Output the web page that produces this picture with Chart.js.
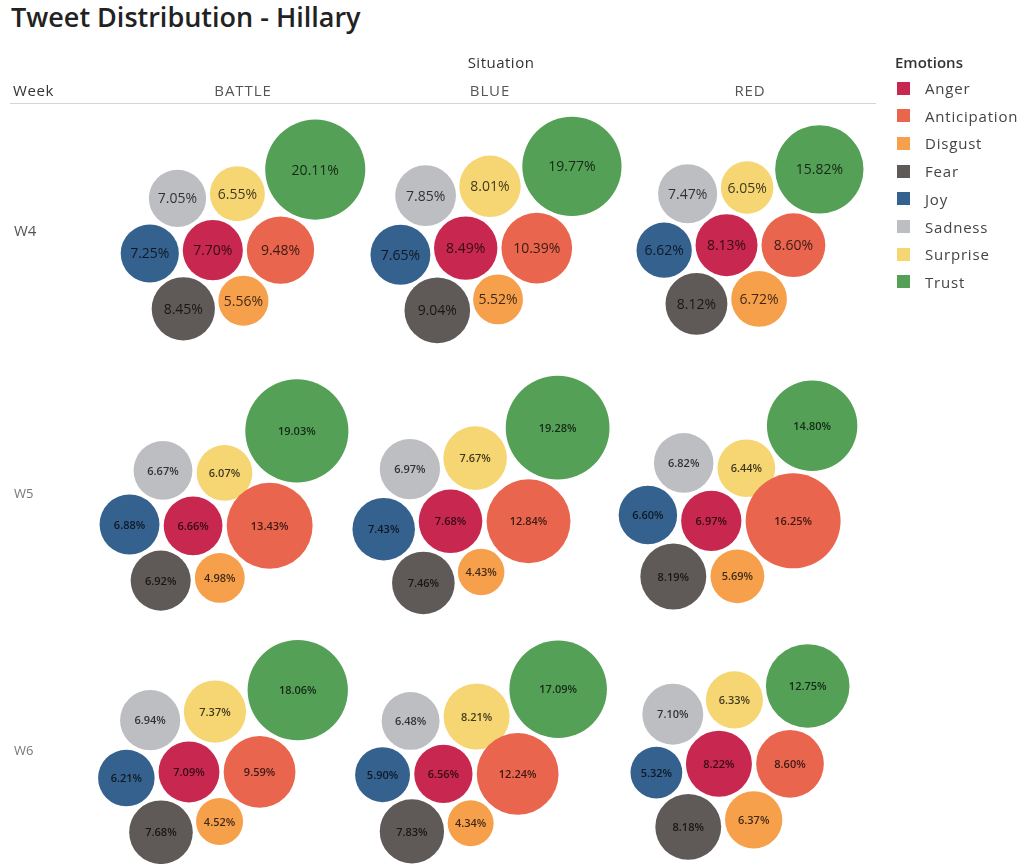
<!DOCTYPE html>
<html>
<head>
<meta charset="utf-8">
<title>Tweet Distribution - Hillary</title>
<script src="https://cdn.jsdelivr.net/npm/chart.js@4"></script>
<style>
  body { margin: 0; background: #fff; font-family: "Open Sans", "Noto Sans", sans-serif; color: #333; }
  #wrap { position: relative; width: 1024px; height: 864px; overflow: hidden; }
  #bubbles { position: absolute; left: 0; top: 0; width: 1024px; height: 864px; }
  .t { position: absolute; white-space: nowrap; line-height: 1; }
  .c { transform: translate(-50%, -50%); }
  .m { transform: translateY(-50%); }
  #title { left: 11px; top: 3px; font-size: 27px; font-weight: 600; color: #222; }
  #rule { position: absolute; left: 10px; top: 103px; width: 866px; height: 1px; background: #d4d4d4; }
  .swatch { position: absolute; width: 13px; height: 13px; }
</style>
</head>
<body>
<div id="wrap">
  <div id="title" class="t">Tweet Distribution - Hillary</div>
  <div id="rule"></div>
  <div id="bubbles"><canvas id="chart"></canvas></div>
</div>
<script>
// ── Data ──────────────────────────────────────────────────
const weeks = ["W4", "W5", "W6"];
const situations = ["BATTLE", "BLUE", "RED"];
const emotions = ["Anger", "Anticipation", "Disgust", "Fear", "Joy", "Sadness", "Surprise", "Trust"];
const emotionColors = ["#c8284f", "#e9654e", "#f7a04c", "#5f5958", "#35618f", "#bcbec1", "#f6d672", "#53a056"];

// % of tweets per emotion, same order as `emotions`
const w4Battle = [7.70, 9.48, 5.56, 8.45, 7.25, 7.05, 6.55, 20.11];
const w4Blue   = [8.49, 10.39, 5.52, 9.04, 7.65, 7.85, 8.01, 19.77];
const w4Red    = [8.13, 8.60, 6.72, 8.12, 6.62, 7.47, 6.05, 15.82];
const w5Battle = [6.66, 13.43, 4.98, 6.92, 6.88, 6.67, 6.07, 19.03];
const w5Blue   = [7.68, 12.84, 4.43, 7.46, 7.43, 6.97, 7.67, 19.28];
const w5Red    = [6.97, 16.25, 5.69, 8.19, 6.60, 6.82, 6.44, 14.80];
const w6Battle = [7.09, 9.59, 4.52, 7.68, 6.21, 6.94, 7.37, 18.06];
const w6Blue   = [6.56, 12.24, 4.34, 7.83, 5.90, 6.48, 8.21, 17.09];
const w6Red    = [8.22, 8.60, 6.37, 8.18, 5.32, 7.10, 6.33, 12.75];

const panels = [
  [w4Battle, w4Blue, w4Red],
  [w5Battle, w5Blue, w5Red],
  [w6Battle, w6Blue, w6Red]
];

// ── Layout ────────────────────────────────────────────────
const AREA = 129;        // px² of bubble area per %
const AREA_FLOOR = 0.7;  // % at which a bubble would shrink to nothing
const PAD = 2;           // gap kept around each bubble when packing
const rowScale = [1, 1.06, 1.06];
const cellX = [[243, 496, 750], [224, 481, 738], [223, 481, 740]];
const cellY = [230, 495, 752];
const headX = [243, 490, 750];

const radius = (v, s) => s * Math.sqrt(AREA * (v - AREA_FLOOR));

// circle c of radius r touching a (ra) and b (rb); side +1 = clockwise from b around a
function touch(a, ra, b, rb, r, side) {
  const da = ra + r, db = rb + r;
  const dx = b.x - a.x, dy = b.y - a.y;
  const d = Math.hypot(dx, dy);
  const cos = (da * da + d * d - db * db) / (2 * da * d);
  const ang = Math.atan2(dy, dx) + side * Math.acos(Math.max(-1, Math.min(1, cos)));
  return { x: a.x + da * Math.cos(ang), y: a.y + da * Math.sin(ang) };
}

// Anger in the middle, the next six wound round it, Trust in the outer notch
function packPanel(vals, s) {
  const r = vals.map(v => radius(v, s));
  const R = r.map(x => x + PAD * s);
  const p = [{ x: 0, y: 0 }, { x: R[0] + R[1], y: 0 }];
  for (let i = 2; i < 7; i++) p[i] = touch(p[0], R[0], p[i - 1], R[i - 1], R[i], 1);
  p[7] = touch(p[6], R[6], p[1], R[1], R[7], -1);
  const minX = Math.min(...p.map((q, i) => q.x - r[i])), maxX = Math.max(...p.map((q, i) => q.x + r[i]));
  const minY = Math.min(...p.map((q, i) => q.y - r[i])), maxY = Math.max(...p.map((q, i) => q.y + r[i]));
  return p.map((q, i) => ({ x: q.x - (minX + maxX) / 2, y: q.y - (minY + maxY) / 2, r: r[i] }));
}

const datasets = emotions.map((name, e) => ({ label: name, data: [], backgroundColor: emotionColors[e], borderWidth: 0 }));
panels.forEach((row, wi) => row.forEach((vals, si) => {
  packPanel(vals, rowScale[wi]).forEach((q, e) => {
    datasets[e].data.push({ x: cellX[wi][si] + q.x, y: cellY[wi] + q.y, r: q.r, v: vals[e], row: wi });
  });
}));

// ── Text: headers, row labels, legend ─────────────────────
const wrap = document.getElementById("wrap");
function addText(txt, x, y, cls, css) {
  const d = document.createElement("div");
  d.className = "t " + cls;
  d.textContent = txt;
  d.style.left = x + "px"; d.style.top = y + "px";
  Object.assign(d.style, css || {});
  wrap.appendChild(d);
  return d;
}
addText("Situation", 501, 62, "c", { fontSize: "15px", color: "#333", letterSpacing: "0.5px" });
addText("Week", 13, 90, "m", { fontSize: "15px", color: "#333", letterSpacing: "0.6px" });
situations.forEach((s, i) => addText(s, headX[i], 90, "c", { fontSize: "15px", color: "#555", letterSpacing: "0.9px" }));
weeks.forEach((w, i) => addText(w, 14, cellY[i] + (i ? -2 : 0), "m", { fontSize: i ? "13px" : "15px", color: i ? "#777" : "#555" }));

addText("Emotions", 895, 62, "m", { fontSize: "15px", fontWeight: "600", color: "#333" });
emotions.forEach((name, i) => {
  const y = 88 + i * 27.7;
  const sw = document.createElement("div");
  sw.className = "swatch";
  sw.style.left = "897px"; sw.style.top = (y - 6.5) + "px"; sw.style.background = emotionColors[i];
  wrap.appendChild(sw);
  addText(name, 925, y, "m", { fontSize: "15px", color: "#444", letterSpacing: "0.8px" });
});

// ── Chart ─────────────────────────────────────────────────
const bubbleLabels = {
  id: "bubbleLabels",
  afterDatasetsDraw(chart) {
    const ctx = chart.ctx;
    ctx.save();
    ctx.textAlign = "center";
    ctx.textBaseline = "middle";
    ctx.fillStyle = "rgba(0,0,0,0.75)";
    chart.data.datasets.forEach((ds, di) => {
      chart.getDatasetMeta(di).data.forEach((el, i) => {
        const pt = ds.data[i];
        ctx.font = pt.row === 0 ? "14px 'Open Sans', sans-serif" : "600 11px 'Open Sans', sans-serif";
        ctx.fillText(pt.v.toFixed(2) + "%", el.x, el.y + 1);
      });
    });
    ctx.restore();
  }
};

new Chart(document.getElementById("chart"), {
  type: "bubble",
  data: { datasets },
  plugins: [bubbleLabels],
  options: {
    responsive: true,
    maintainAspectRatio: false,
    animation: false,
    events: [],
    layout: { padding: 0, autoPadding: false },
    plugins: { legend: { display: false }, tooltip: { enabled: false } },
    scales: {
      x: { type: "linear", min: 0, max: 1024, display: false },
      y: { type: "linear", min: 0, max: 864, reverse: true, display: false }
    }
  }
});
</script>
</body>
</html>
